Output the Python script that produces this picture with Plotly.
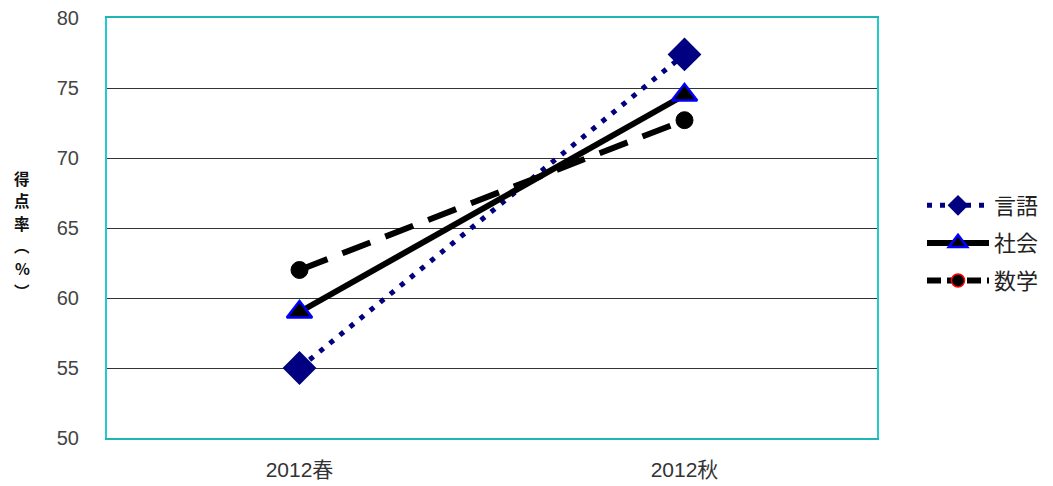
import plotly.graph_objects as go

categories = ["2012春", "2012秋"]
gengo = [55.0, 77.4]
shakai = [59.0, 74.5]
sugaku = [62.0, 72.7]
y_ticks = [50, 55, 60, 65, 70, 75, 80]
y_title_chars = ["得", "点", "率", "︵", "%", "︶"]

FONT = "Liberation Sans, Noto Sans CJK JP, sans-serif"
CJK = "Noto Sans CJK JP, sans-serif"

W, H = 1053, 486
L, R, T, B = 107, 176, 18, 48

fig = go.Figure()

fig.add_trace(go.Scatter(
    x=categories, y=gengo, name="言語", mode="lines+markers", legendgroup="a",
    line=dict(color="#000080", width=5, dash="5px,8px"),
    marker=dict(symbol="diamond", size=26, color="#000080", line=dict(width=0)),
))
fig.add_trace(go.Scatter(
    x=categories, y=shakai, name="社会", mode="lines+markers", legendgroup="b",
    line=dict(color="#000000", width=6),
    marker=dict(symbol="triangle-up", size=22, color="#000000",
                line=dict(color="#0000ff", width=2.5)),
))
fig.add_trace(go.Scatter(
    x=categories, y=sugaku, name="数学", mode="lines+markers", legendgroup="c",
    line=dict(color="#000000", width=6, dash="30px,16px"),
    marker=dict(symbol="circle", size=17, color="#000000",
                line=dict(color="#000000", width=1)),
    showlegend=False,
))
fig.add_trace(go.Scatter(
    x=[None], y=[None], name="数学", mode="lines+markers", legendgroup="c",
    line=dict(color="#000000", width=6, dash="14px,6px"),
    marker=dict(symbol="circle", size=13, color="#000000",
                line=dict(color="#ff0000", width=1.5)),
))

# stacked (vertical) y-axis title, one character per annotation
title_size = 15.5
step = 22.6
center = 234
n = len(y_title_chars)
annotations = []
for i, ch in enumerate(y_title_chars):
    py = center + (i - (n - 1) / 2) * step
    annotations.append(dict(
        text=f"<b>{ch}</b>", xref="paper", yref="paper",
        x=(22 - L) / (W - L - R), y=(H - B - py) / (H - T - B),
        xanchor="center", yanchor="middle", showarrow=False,
        font=dict(family=CJK, size=title_size, color="#111111"),
    ))

fig.update_layout(
    width=W, height=H,
    margin=dict(l=L, r=R, t=T, b=B, autoexpand=False),
    paper_bgcolor="white", plot_bgcolor="white",
    showlegend=True,
    legend=dict(
        x=(922 - L) / (W - L - R), y=(H - B - 243) / (H - T - B),
        xanchor="left", yanchor="middle",
        font=dict(family=CJK, size=22, color="#222222"),
        bgcolor="rgba(0,0,0,0)", tracegroupgap=6, itemwidth=62,
        traceorder="grouped",
    ),
    xaxis=dict(
        type="category", range=[-0.5, 1.5], automargin=False,
        showgrid=False, showline=True, linecolor="#1fb5b5", linewidth=2, mirror=True,
        ticks="", tickfont=dict(family=FONT, size=21, color="#333333"),
        ticklabelstandoff=12, zeroline=False,
    ),
    yaxis=dict(
        range=[50, 80], tickvals=y_ticks, automargin=False,
        showgrid=True, gridcolor="#333333", gridwidth=1,
        showline=True, linecolor="#22cccc", linewidth=2, mirror=True,
        ticks="", tickfont=dict(family=FONT, size=20, color="#444444"),
        ticklabelstandoff=22, zeroline=False,
    ),
    annotations=annotations,
)

fig.write_html("out.html")
